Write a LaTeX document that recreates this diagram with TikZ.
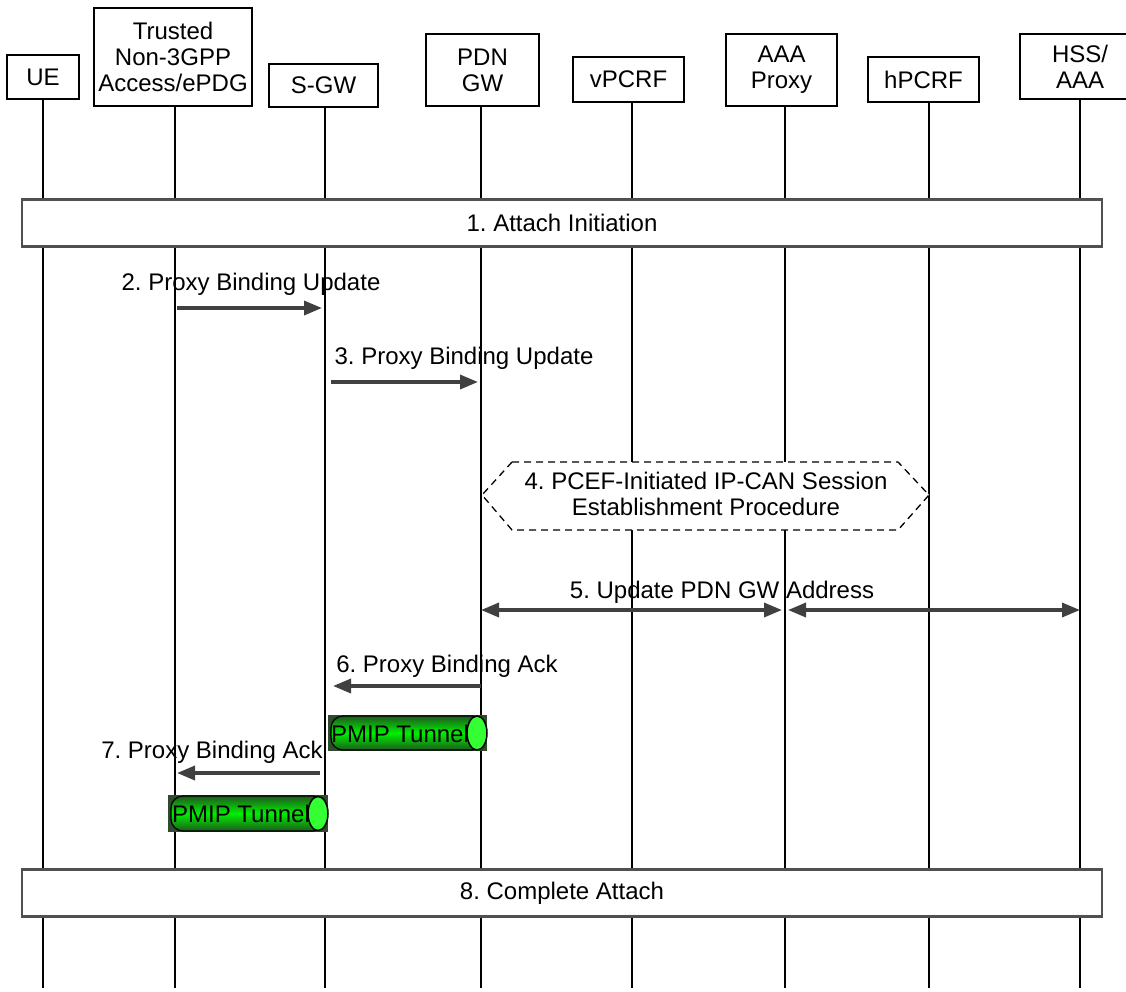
\documentclass[tikz,border=0pt]{standalone}
\usepackage{fontspec}
\setmainfont{Liberation Sans}
\usetikzlibrary{arrows.meta}
\definecolor{arrowgray}{HTML}{404040}
\definecolor{boxgray}{HTML}{505050}
\definecolor{tubedark}{HTML}{1E5A1E}
\definecolor{tubelight}{HTML}{00F000}
\definecolor{capgreen}{HTML}{33FF33}
\definecolor{backdark}{HTML}{2F4A2F}
\frenchspacing
\begin{document}
\frenchspacing
\begin{tikzpicture}[x=1pt,y=-1pt,
  every node/.style={font=\fontsize{24}{26}\selectfont},
  entity/.style={draw=black, line width=1.2pt, fill=white, align=center, inner sep=0pt},
  life/.style={draw=black, line width=1.1pt},
  phase/.style={draw=boxgray, line width=2.5pt, fill=white, minimum width=1080pt, minimum height=47pt, inner sep=0pt},
  msg/.style={draw=arrowgray, line width=3.4pt, -{Triangle[length=18pt,width=14pt]}},
  dmsg/.style={draw=arrowgray, line width=3.4pt, {Triangle[length=18pt,width=14pt]}-{Triangle[length=18pt,width=14pt]}},
  lbl/.style={inner sep=0pt, anchor=base},
  hexline/.style={draw=black, line width=1.3pt, dash pattern=on 7pt off 5pt, fill=white},
  tubebody/.style={top color=tubedark, bottom color=tubedark, middle color=tubelight, draw=black, line width=1.2pt, rounded corners=12pt},
  tubecap/.style={fill=capgreen, draw=black, line width=1.5pt},
]
\useasboundingbox (0,0) rectangle (1126,991);

% entity boxes
\node[entity, minimum width=72pt, minimum height=44pt] (ue) at (43,77) {UE};
\node[entity, minimum width=158pt, minimum height=98pt] (tn) at (173,57) {Trusted\\Non-3GPP\\Access/ePDG};
\node[entity, minimum width=109pt, minimum height=43pt] (sgw) at (323.5,85.5) {S-GW};
\node[entity, minimum width=113pt, minimum height=72pt] (pgw) at (482.5,70) {PDN\\GW};
\node[entity, minimum width=111pt, minimum height=45pt] (vp) at (628.5,79.5) {vPCRF};
\node[entity, minimum width=111pt, minimum height=72pt] (aaa) at (781.5,70) {AAA\\Proxy};
\node[entity, minimum width=111pt, minimum height=45pt] (hp) at (923.5,79.5) {hPCRF};
\node[entity, minimum width=120pt, minimum height=65pt] (hss) at (1080,66.5) {HSS/\\AAA};

% lifeline ends
\coordinate (ueE) at (43,988);
\coordinate (tnE) at (175,988);
\coordinate (sgwE) at (325,988);
\coordinate (pgwE) at (481,988);
\coordinate (vpE) at (632,988);
\coordinate (aaaE) at (785,988);
\coordinate (hpE) at (929,988);
\coordinate (hssE) at (1080,988);
\draw[life] (ue.south -| ueE) -- (ueE);
\draw[life] (tn.south -| tnE) -- (tnE);
\draw[life] (sgw.south -| sgwE) -- (sgwE);
\draw[life] (pgw.south -| pgwE) -- (pgwE);
\draw[life] (vp.south -| vpE) -- (vpE);
\draw[life] (aaa.south -| aaaE) -- (aaaE);
\draw[life] (hp.south -| hpE) -- (hpE);
\draw[life] (hss.south -| hssE) -- (hssE);

% 1. Attach Initiation
\node[phase] (att) at (562,223) {1. Attach Initiation};

% 2.
\coordinate (m2a) at (177,308);
\coordinate (m2b) at (322,308);
\draw[msg] (m2a) -- (m2b);
\node[lbl] (l2) at (251,290) {2. Proxy Binding Update};

% 3.
\coordinate (m3a) at (331,382);
\coordinate (m3b) at (478,382);
\draw[msg] (m3a) -- (m3b);
\node[lbl] (l3) at (464,364) {3. Proxy Binding Update};

% 4. hexagon
\filldraw[hexline] (512,462) -- (898,462) -- (929,495) -- (898,530) -- (512,530) -- (482,495) -- cycle;
\node[align=center, inner sep=0pt] (p4) at (706,494) {4. PCEF-Initiated IP-CAN Session\\Establishment Procedure};

% 5.
\coordinate (m5a) at (481,610);
\coordinate (m5b) at (782,610);
\coordinate (m5c) at (788,610);
\coordinate (m5d) at (1080,610);
\draw[dmsg] (m5a) -- (m5b);
\draw[dmsg] (m5c) -- (m5d);
\node[lbl] (l5) at (722,598) {5. Update PDN GW Address};

% 6.
\coordinate (m6a) at (481,686);
\coordinate (m6b) at (333,686);
\draw[msg] (m6a) -- (m6b);
\node[lbl] (l6) at (447,672) {6. Proxy Binding Ack};

% tunnel 1
\fill[backdark] (328,715) rectangle (487,751);
\shadedraw[tubebody] (331,716) rectangle (484,750);
\filldraw[tubecap] (477,733) ellipse [x radius=10, y radius=17];
\node[lbl] (t1) at (400,742) {PMIP Tunnel};

% 7.
\coordinate (m7a) at (320,773);
\coordinate (m7b) at (177,773);
\draw[msg] (m7a) -- (m7b);
\node[lbl] (l7) at (212,758) {7. Proxy Binding Ack};

% tunnel 2
\fill[backdark] (168,795) rectangle (328,832);
\shadedraw[tubebody] (171,796) rectangle (325,831);
\filldraw[tubecap] (318,813.5) ellipse [x radius=10, y radius=17];
\node[lbl] (t2) at (241,822) {PMIP Tunnel};

% 8. Complete Attach
\node[phase] (cpl) at (562,893) {8. Complete Attach};
\end{tikzpicture}
\end{document}
